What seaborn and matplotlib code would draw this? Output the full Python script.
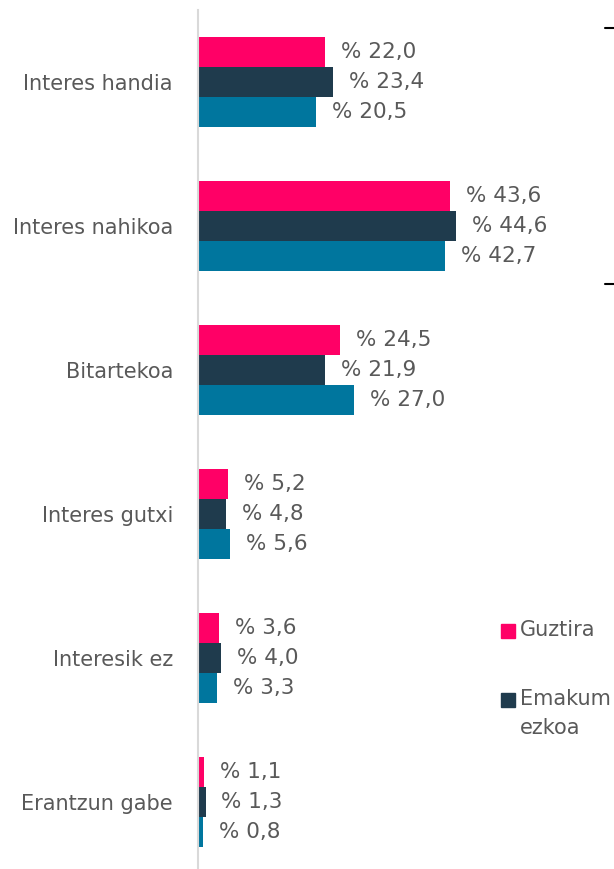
import numpy as np
import pandas as pd
import seaborn as sns
import matplotlib.pyplot as plt
from matplotlib.lines import Line2D
from matplotlib.patches import Rectangle

# Chart data
categories = ["Interes handia", "Interes nahikoa", "Bitartekoa",
              "Interes gutxi", "Interesik ez", "Erantzun gabe"]
series = ["Guztira", "Emakumezkoa", "Gizonezkoa"]
guztira = [22.0, 43.6, 24.5, 5.2, 3.6, 1.1]
emakumezkoa = [23.4, 44.6, 21.9, 4.8, 4.0, 1.3]
gizonezkoa = [20.5, 42.7, 27.0, 5.6, 3.3, 0.8]
legend_labels = ["Guztira", "Emakum\nezkoa"]

colors = ["#FF0066", "#1F3B4D", "#00769E"]

df = pd.DataFrame({
    "kategoria": categories * 3,
    "taldea": [s for s in series for _ in categories],
    "balioa": guztira + emakumezkoa + gizonezkoa,
})

sns.set_style("white")
plt.rcParams['font.family'] = ['DejaVu Sans']

W, H = 614, 869
fig = plt.figure(figsize=(W / 100, H / 100), dpi=100)
ax = fig.add_axes([198 / W, 0, 416 / W, 1 - 10 / H])

sns.barplot(data=df, y="kategoria", x="balioa", hue="taldea", order=categories,
            hue_order=series, palette=colors, orient="h", width=0.62,
            saturation=1, linewidth=0, ax=ax, legend=False)

for cont in ax.containers:
    ax.bar_label(cont, labels=[f"% {v:.1f}".replace(".", ",") for v in cont.datavalues],
                 padding=11.5, fontsize=15.5, color="#595959")

ax.set_xlim(0, 72)
ax.set_ylim(5.465, -0.5)
ax.set_xlabel("")
ax.set_ylabel("")
ax.set_xticks([])
ax.tick_params(axis="y", length=0, pad=18, labelsize=15, labelcolor="#595959")
for side in ["top", "right", "bottom"]:
    ax.spines[side].set_visible(False)
ax.spines["left"].set_color("#D9D9D9")
ax.spines["left"].set_linewidth(1.5)

# legend (only first two entries fit in the frame), drawn by hand
# so the marker sits on the first line of the wrapped label
legend_y = [631, 700]
for c, lab, y in zip(colors[:2], legend_labels, legend_y):
    fig.add_artist(Rectangle((501 / W, 1 - (y + 7) / H), 14 / W, 14 / H,
                             color=c, transform=fig.transFigure))
    fig.text(520 / W, 1 - (y - 11) / H, lab, ha="left", va="top",
             fontsize=15, color="#595959", linespacing=1.55)

# bracket fragment at top right
fig.add_artist(Line2D([605 / W, 1], [1 - 28 / H, 1 - 28 / H], color="black", lw=1.5))
fig.add_artist(Line2D([605 / W, 1], [1 - 284 / H, 1 - 284 / H], color="black", lw=1.5))

fig.savefig("out.png", dpi=100)
